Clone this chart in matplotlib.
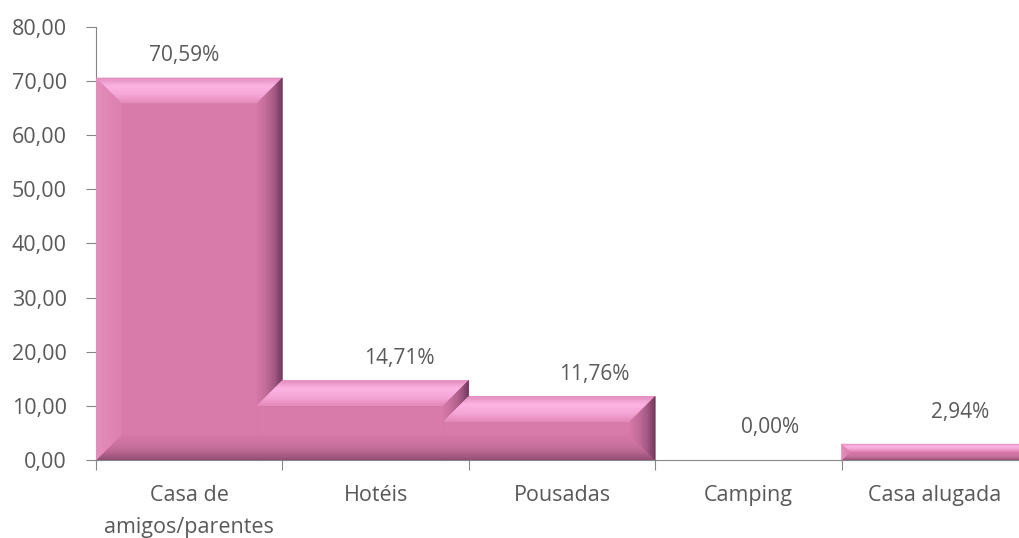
import matplotlib.pyplot as plt
import numpy as np
from matplotlib.patches import Polygon
from matplotlib.colors import to_rgb
from matplotlib.ticker import FuncFormatter

# dados
categorias = ['Casa de\namigos/parentes', 'Hotéis', 'Pousadas', 'Camping', 'Casa alugada']
percentuais = [70.59, 14.71, 11.76, 0.00, 2.94]
rotulos = ['70,59%', '14,71%', '11,76%', '0,00%', '2,94%']

plt.rcParams['font.family'] = ['Open Sans', 'DejaVu Sans']
cinza = '#595959'

W, H = 1020, 538
fig = plt.figure(figsize=(W / 100, H / 100), dpi=100)
ax = fig.add_axes([96 / W, 78 / H, 932 / W, 433 / H])
ax.set_xlim(-0.5, 4.5)
ax.set_ylim(0, 80)

face = '#D87AAA'
# gradientes (da borda para dentro)
g_topo = ['#E28CBE', '#FDB5E5', '#F6A8D8', '#E48CBC']
g_esq = ['#E590BE', '#E087B6', '#DC80B0']
g_dir = ['#6E3658', '#A35883', '#C26B99', '#D377A7']
g_base = ['#8E4A72', '#B8668F', '#CC73A2', '#D578A8']

px_x = 932 / 5.0
px_y = 433 / 80.0
bx = 25 / px_x
by_ = 25 / px_y


def lerp(a, b, t):
    return (a[0] + (b[0] - a[0]) * t, a[1] + (b[1] - a[1]) * t)


def cor(grad, t):
    cs = [np.array(to_rgb(c)) for c in grad]
    s = t * (len(cs) - 1)
    k = min(int(s), len(cs) - 2)
    f = s - k
    return tuple(cs[k] * (1 - f) + cs[k + 1] * f)


def faixa(o0, o1, i0, i1, grad, z, n=14):
    # faixa do bisel: borda externa (o0,o1) -> borda interna (i0,i1)
    for k in range(n):
        t0, t1 = k / n, (k + 1) / n
        pts = [lerp(o0, i0, t0), lerp(o1, i1, t0), lerp(o1, i1, t1), lerp(o0, i0, t1)]
        c = cor(grad, (t0 + t1) / 2)
        ax.add_patch(Polygon(pts, closed=True, facecolor=c, edgecolor=c,
                             linewidth=0.4, zorder=z))


for i, v in enumerate(percentuais):
    if v <= 0:
        continue
    x0, x1 = i - 0.5, i + 0.5
    b = min(by_, v * 0.45)
    bxx = bx * b / by_
    z = 2 + i
    anterior = percentuais[i - 1] if i > 0 else 0
    if anterior > v:
        # barra encostada na anterior: face estendida para a esquerda
        xl = x0 - bxx
        ax.add_patch(Polygon([(xl, 0), (x1, 0), (x1, v), (x0, v), (xl, v - b)],
                             closed=True, facecolor=face, edgecolor='none', zorder=z))
        faixa((x0, v), (x1, v), (xl, v - b), (x1 - bxx, v - b), g_topo, z)
        faixa((xl, 0), (x1, 0), (xl, b), (x1 - bxx, b), g_base, z)
        faixa((x1, v), (x1, 0), (x1 - bxx, v - b), (x1 - bxx, b), g_dir, z)
    else:
        ax.bar(i, v, width=1.0, color=face, edgecolor='none', zorder=z)
        faixa((x0, v), (x1, v), (x0 + bxx, v - b), (x1 - bxx, v - b), g_topo, z)
        faixa((x0, 0), (x1, 0), (x0 + bxx, b), (x1 - bxx, b), g_base, z)
        faixa((x0, v), (x0, 0), (x0 + bxx, v - b), (x0 + bxx, b), g_esq, z)
        faixa((x1, v), (x1, 0), (x1 - bxx, v - b), (x1 - bxx, b), g_dir, z)

# rótulos de dados
desloc_x = [-5, 24, 32, 22, 25]
for i, (v, t) in enumerate(zip(percentuais, rotulos)):
    dy = 22 if v > 5 else 32
    ax.annotate(t, (i, v), xytext=(desloc_x[i], dy), textcoords='offset pixels',
                ha='center', va='center', fontsize=15, color=cinza, zorder=10)

ax.yaxis.set_major_formatter(FuncFormatter(lambda y, p: f'{y:.2f}'.replace('.', ',')))
ax.set_yticks(range(0, 81, 10))
ax.set_xticks([i - 0.5 for i in range(6)])
ax.set_xticklabels([])
ax.set_xticks(range(5), minor=True)
ax.set_xticklabels(categorias, minor=True, fontsize=15.5, color=cinza, linespacing=1.7)
ax.tick_params(axis='x', which='minor', length=0, pad=18)
ax.tick_params(axis='x', which='major', length=7, color='#868686')
ax.tick_params(axis='y', length=7, color='#868686', labelsize=15.5, labelcolor=cinza, pad=14)

for s in ['top', 'right']:
    ax.spines[s].set_visible(False)
for s in ['left', 'bottom']:
    ax.spines[s].set_color('#868686')
    ax.spines[s].set_zorder(1)

fig.savefig('out.png', dpi=100)
